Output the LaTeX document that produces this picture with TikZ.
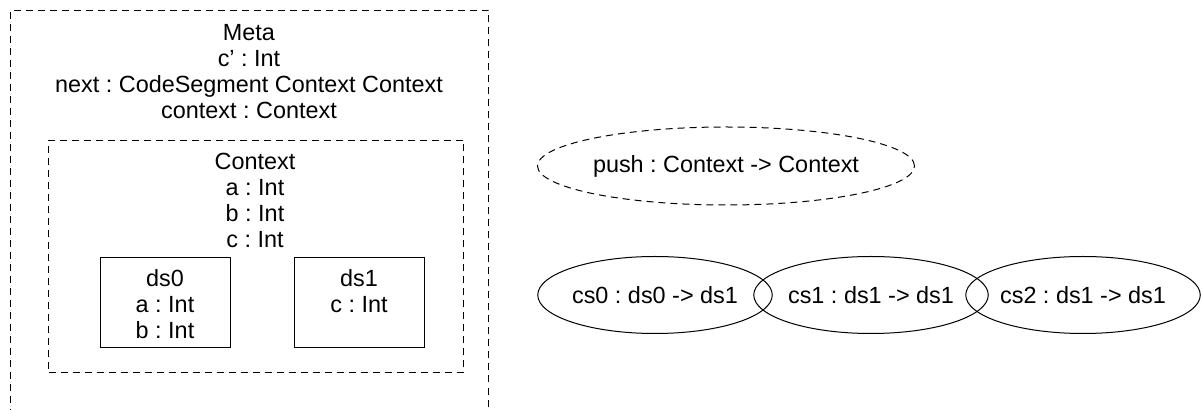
\documentclass[tikz,border=0pt]{standalone}
\usepackage{fontspec}
\setmainfont{Liberation Sans}
\usetikzlibrary{shapes.geometric}
\frenchspacing

\begin{document}
\begin{tikzpicture}[x=0.5pt, y=-0.5pt, line width=0.5pt,
		every node/.style={inner sep=0pt, align=center, font=\fontsize{11.7pt}{13pt}\selectfont},
		dashbox/.style={draw, rectangle, dash pattern=on 3.5pt off 2.5pt, anchor=north west},
		databox/.style={draw, rectangle, anchor=north west, minimum width=65pt, minimum height=45pt},
		segment/.style={draw, ellipse, minimum width=115pt, minimum height=38.5pt}]
				\useasboundingbox (0,0) rectangle (1202,410);
				\clip (0,0) rectangle (1202,410);
				% meta data segment
				\node[dashbox, minimum width=239pt, minimum height=235pt](meta) at (10, 10) {};
				\node(metatxt) at (249, 72) {Meta\\c' : Int\\next : CodeSegment Context Context\\context : Context};
				% context
				\node[dashbox, minimum width=207.5pt, minimum height=116pt](context) at (48, 140) {};
				\node(contexttxt) at (255, 200) {Context\\a : Int\\b : Int\\c : Int};
				\node[databox](ds0) at (100, 257) {};
				\node(ds0txt) at (165, 304) {ds0\\a : Int\\b : Int};
				\node[databox](ds1) at (294, 257) {};
				\node(ds1txt) at (359, 291) {ds1\\c : Int};
				% code segments
				\node[draw, ellipse, dash pattern=on 3.5pt off 2.5pt, minimum width=188.5pt, minimum height=39pt](push) at (726, 166) {push : Context -> Context};
				\node[segment](cs0) at (655, 295) {cs0 : ds0 -> ds1};
				\node[segment, minimum width=113pt](cs1) at (871, 295) {cs1 : ds1 -> ds1};
				\node[segment, minimum width=116.5pt](cs2) at (1083, 295) {cs2 : ds1 -> ds1};
		\end{tikzpicture}
\end{document}
